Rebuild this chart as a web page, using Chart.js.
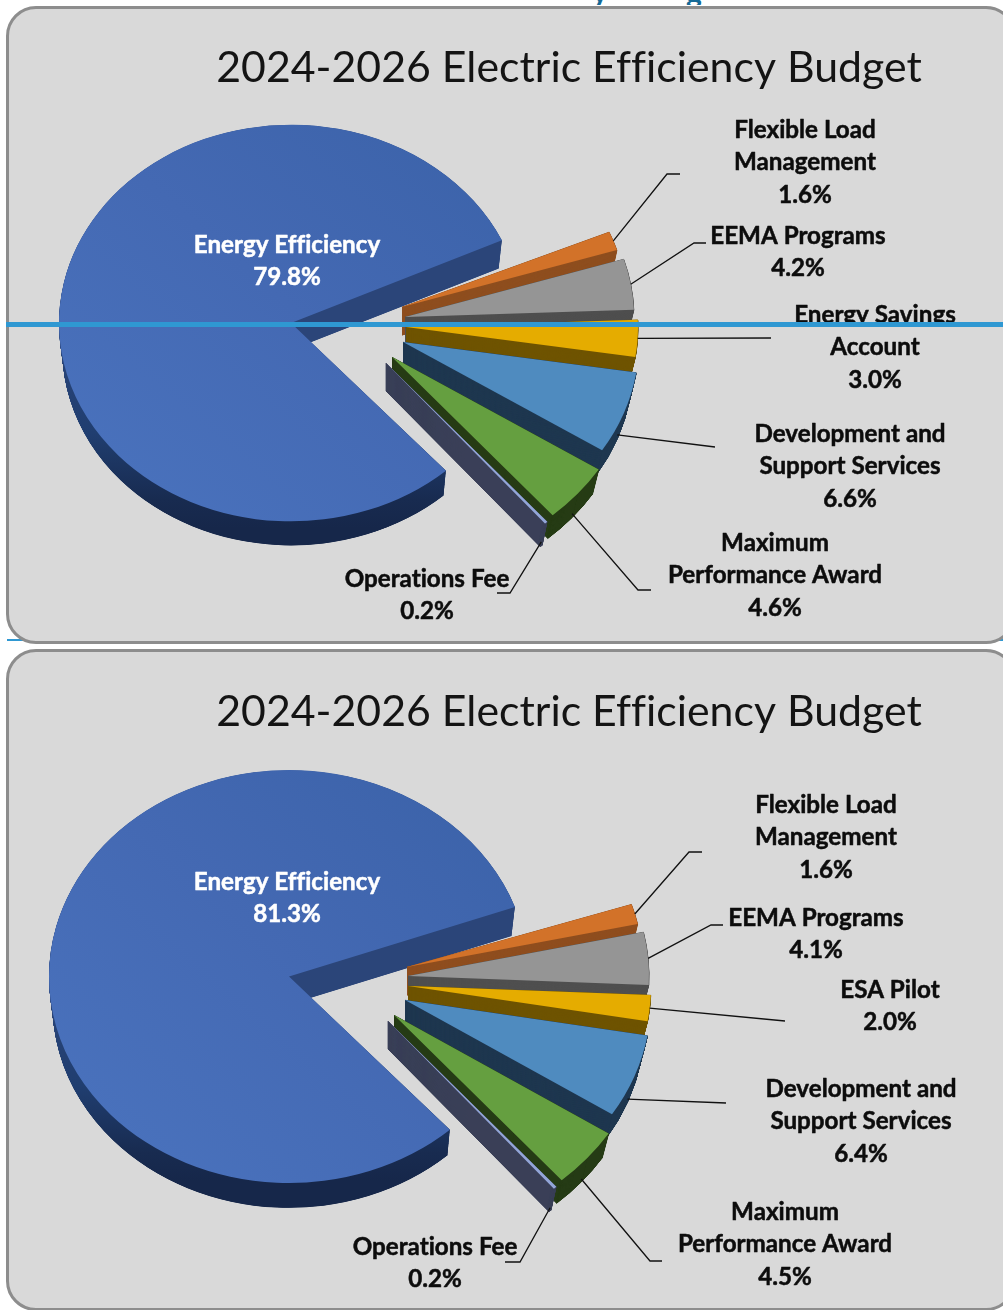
<!DOCTYPE html>
<html>
<head>
<meta charset="utf-8">
<title>2024-2026 Electric Efficiency Budget</title>
<script src="https://cdn.jsdelivr.net/npm/chart.js@4"></script>
<style>
  html, body { margin: 0; padding: 0; background: #fff; }
  #page { position: relative; width: 1003px; height: 1310px; overflow: hidden; }
  .panel { position: absolute; left: 6px; width: 1010px; box-sizing: border-box;
           background: #d9d9d9; border: 3px solid #8d8d8d; border-radius: 30px; }
  #panelA { top: 6px; height: 638px; }
  #panelB { top: 649px; height: 662px; }
  canvas { position: absolute; left: 0; display: block; }
  #chartA { top: 0; }
  #chartB { top: 645px; }
  .rule { position: absolute; background: #2f98d2; }
  #ruleBehind { left: 7px; top: 638.5px; width: 996px; height: 2px; }
  #ruleOver { left: 6px; top: 322px; width: 997px; height: 5px; }
  #cutHeading { position: absolute; left: 0; top: 0; width: 1003px; height: 5px; overflow: hidden; }
  #cutHeading span { position: absolute; top: -27px; font: bold 30px Lato, sans-serif; color: #156a97; }
</style>
</head>
<body>
<div id="page">
  <div id="cutHeading"><span style="left:592px">y</span><span style="left:686px">g</span></div>
  <div class="rule" id="ruleBehind"></div>
  <div class="panel" id="panelA"></div>
  <div class="panel" id="panelB"></div>
  <canvas id="chartA" width="1003" height="645"></canvas>
  <canvas id="chartB" width="1003" height="665"></canvas>
  <div class="rule" id="ruleOver"></div>
</div>
<script>
// Budget shares, in percent, clockwise from the large slice.
const chartTitle = "2024-2026 Electric Efficiency Budget";
const categoriesA = ["Energy Efficiency", "Flexible Load Management", "EEMA Programs", "Energy Savings Account", "Development and Support Services", "Maximum Performance Award", "Operations Fee"];
const valuesA = [79.8, 1.6, 4.2, 3.0, 6.6, 4.6, 0.2];
const categoriesB = ["Energy Efficiency", "Flexible Load Management", "EEMA Programs", "ESA Pilot", "Development and Support Services", "Maximum Performance Award", "Operations Fee"];
const valuesB = [81.3, 1.6, 4.1, 2.0, 6.4, 4.5, 0.2];

// Slice colours: top faces and the darker side walls.
const faceColors = ["#4369b3", "#d27229", "#959595", "#e5ac00", "#4f8bbf", "#659f40", "#93a6d8"];
const wallColors = ["#2b4579", "#8f4e1f", "#4f4f4f", "#6f5400", "#1f3750", "#263c15", "#3a4058"];

// Wrapped label text for each category.
const wrapA = [["Energy Efficiency"], ["Flexible Load", "Management"], ["EEMA Programs"], ["Energy Savings", "Account"], ["Development and", "Support Services"], ["Maximum", "Performance Award"], ["Operations Fee"]];
const wrapB = [["Energy Efficiency"], ["Flexible Load", "Management"], ["EEMA Programs"], ["ESA Pilot"], ["Development and", "Support Services"], ["Maximum", "Performance Award"], ["Operations Fee"]];

const FONT_LABEL = "bold 24.2px Lato, sans-serif";
const FONT_TITLE = "42.8px Lato, sans-serif";

// Layout of one tilted, exploded pie. Page y coordinates; originY maps them into its canvas.
const layoutA = {
  originY: 0, cx: 291, cy: 323, tilt: 0.855, rimDrop: 24, rotation: 138.1, fanTurn: 1.65,
  bodyDepth: 27, bodyShrink: 0.015, fanDepth: 28, fanShrink: 0.03,
  titleAt: [569, 68],
  apexes: [null, [402, 307], [405, 317], [406, 327], [403, 342], [392, 357], [386, 363]],
  radii: [232, 225, 229, 232, 236, 245, 246],
  labelAt: [[287, 245], [805, 130], [798, 236], [875, 315], [850, 434], [775, 543], [427, 579]],
  leaders: [null,
    { via: [[667, 174], [680, 174]] },
    { via: [[694, 243], [706, 243]] },
    { via: [[771, 338]] },
    { via: [[715, 447]], rim: true },
    { via: [[638, 590], [651, 590]], rim: true },
    { via: [[510, 593], [497, 593]], rim: true }],
  clipLabel: { index: 3, bottom: 327 }
};
const layoutB = {
  originY: 645, cx: 289, cy: 976.5, tilt: 0.86, rimDrop: 25, rotation: 137.9, fanTurn: 1.7,
  bodyDepth: 28, bodyShrink: 0.015, fanDepth: 28, fanShrink: 0.03,
  titleAt: [569, 712],
  apexes: [null, [407, 967], [408, 976], [408, 986], [405, 1000], [394, 1015], [388, 1021]],
  radii: [240, 236, 241, 243, 246, 255, 256],
  labelAt: [[287, 882], [826, 805], [816, 918], [890, 990], [861, 1089], [785, 1212], [435, 1247]],
  leaders: [null,
    { via: [[689, 852], [702, 852]] },
    { via: [[711, 925], [723, 925]] },
    { via: [[785, 1021]] },
    { via: [[726, 1103]], rim: true },
    { via: [[650, 1261], [662, 1261]], rim: true },
    { via: [[520, 1262], [505, 1262]], rim: true }],
  clipLabel: null
};
const LINE_STEP = 32.6;
const WALL_STEP = 0.25;

const toRad = d => d * Math.PI / 180;

// Tilts the pie into an ellipse, gives each slice its exploded position and
// extrudes it downwards, then adds the title, labels and leader lines.
const tiltedPie = {
  id: "tiltedPie",
  afterDatasetsUpdate(chart, args, opts) {
    const lay = opts.layout;
    const arcs = chart.getDatasetMeta(0).data;
    const turn = toRad(lay.fanTurn);
    arcs.forEach((arc, i) => {
      const uy = y => lay.cy - lay.originY + (y - lay.cy) / lay.tilt;
      const apex = lay.apexes[i] || [lay.cx, lay.cy];
      arc.x = apex[0];
      arc.y = uy(apex[1]);
      arc.innerRadius = 0;
      arc.outerRadius = lay.radii[i];
      if (i > 0) { arc.startAngle += turn; arc.endAngle += turn; }
    });
  },
  beforeDatasetsDraw(chart, args, opts) {
    const lay = opts.layout, ctx = chart.ctx;
    const pivot = lay.cy - lay.originY;
    const uy = y => pivot + (y - lay.cy) / lay.tilt;
    const arcs = chart.getDatasetMeta(0).data;

    const bodyWall = ctx.createLinearGradient(0, uy(lay.cy + 15), 0, uy(lay.cy + 205));
    bodyWall.addColorStop(0, wallColors[0]);
    bodyWall.addColorStop(0.5, "#203e70");
    bodyWall.addColorStop(0.85, "#182b50");
    bodyWall.addColorStop(1, "#16274a");
    const bodyFace = ctx.createLinearGradient(lay.cx - 230, uy(lay.cy + 180), lay.cx + 190, uy(lay.cy - 175));
    bodyFace.addColorStop(0, "#4a73be");
    bodyFace.addColorStop(0.55, "#4469b3");
    bodyFace.addColorStop(1, "#3c63aa");

    ctx.save();
    ctx.translate(0, pivot);
    ctx.scale(1, lay.tilt);
    ctx.translate(0, -pivot);
    arcs.forEach((arc, i) => {
      const base = arc.options, y0 = arc.y, r0 = arc.outerRadius;
      const depth = i === 0 ? lay.bodyDepth : lay.fanDepth;
      const shrink = i === 0 ? lay.bodyShrink : lay.fanShrink;
      // Narrow wedges get a hairline border so their walls stay solid near the tip.
      arc.options = i === 0
        ? Object.assign({}, base, { backgroundColor: bodyWall, borderWidth: 0 })
        : Object.assign({}, base, { backgroundColor: wallColors[i], borderColor: wallColors[i], borderWidth: 0.8 });
      // The side wall narrows slightly with depth, like a view from above.
      for (let d = depth; d > 0; d -= WALL_STEP) {
        arc.y = y0 + d / lay.tilt;
        arc.outerRadius = r0 * (1 - shrink * d / depth);
        arc.draw(ctx);
      }
      arc.y = y0;
      arc.outerRadius = r0;
      arc.options = Object.assign({}, base, { backgroundColor: i === 0 ? bodyFace : faceColors[i], borderWidth: 0 });
      arc.draw(ctx);
      arc.options = base;
    });
    ctx.restore();
    return false;
  },
  afterDraw(chart, args, opts) {
    const lay = opts.layout, ctx = chart.ctx;
    const arcs = chart.getDatasetMeta(0).data;
    const values = chart.data.datasets[0].data;
    const wraps = opts.wraps;
    ctx.save();
    ctx.translate(0, -lay.originY);

    // A tiny letter spacing keeps "ffi" as separate letters.
    ctx.letterSpacing = "0.01px";
    ctx.fillStyle = "#141414";
    ctx.font = FONT_TITLE;
    ctx.textAlign = "center";
    ctx.textBaseline = "middle";
    ctx.fillText(chartTitle, lay.titleAt[0], lay.titleAt[1]);

    // Leader lines start on the slice edge, at the middle of its arc;
    // the lower slices take theirs from the foot of the side wall.
    ctx.strokeStyle = "#111";
    ctx.lineWidth = 1.3;
    arcs.forEach((arc, i) => {
      const leader = lay.leaders[i];
      if (!leader) return;
      const mid = (arc.startAngle + arc.endAngle) / 2;
      const apex = lay.apexes[i];
      const reach = arc.outerRadius * (leader.rim ? 1 - lay.fanShrink : 1);
      const sx = apex[0] + reach * Math.cos(mid);
      const sy = apex[1] + lay.tilt * reach * Math.sin(mid) + (leader.rim ? lay.rimDrop : 0);
      ctx.beginPath();
      ctx.moveTo(sx, sy);
      leader.via.forEach(p => ctx.lineTo(p[0], p[1]));
      ctx.stroke();
    });

    // Category names followed by the share taken from the data.
    ctx.font = FONT_LABEL;
    ctx.lineWidth = 0.5;
    ctx.lineJoin = "round";
    wraps.forEach((lines, i) => {
      const at = lay.labelAt[i];
      ctx.fillStyle = i === 0 ? "#ffffff" : "#0c0c0c";
      ctx.strokeStyle = ctx.fillStyle;
      lines.concat(values[i].toFixed(1) + "%").forEach((line, n) => {
        const cut = lay.clipLabel && lay.clipLabel.index === i && n === 0;
        if (cut) {
          ctx.save();
          ctx.beginPath();
          ctx.rect(0, 0, 1003, lay.clipLabel.bottom);
          ctx.clip();
        }
        ctx.strokeText(line, at[0], at[1] + n * LINE_STEP);
        ctx.fillText(line, at[0], at[1] + n * LINE_STEP);
        if (cut) ctx.restore();
      });
    });
    ctx.restore();
  }
};

function buildPie(id, categories, values, wraps, layout) {
  return new Chart(document.getElementById(id), {
    type: "pie",
    data: {
      labels: categories,
      datasets: [{ data: values, backgroundColor: faceColors, borderWidth: 0 }]
    },
    options: {
      responsive: false,
      animation: false,
      events: [],
      rotation: layout.rotation,
      plugins: {
        legend: { display: false },
        title: { display: false },
        tooltip: { enabled: false },
        tiltedPie: { layout, wraps }
      }
    },
    plugins: [tiltedPie]
  });
}

buildPie("chartA", categoriesA, valuesA, wrapA, layoutA);
buildPie("chartB", categoriesB, valuesB, wrapB, layoutB);
</script>
</body>
</html>
